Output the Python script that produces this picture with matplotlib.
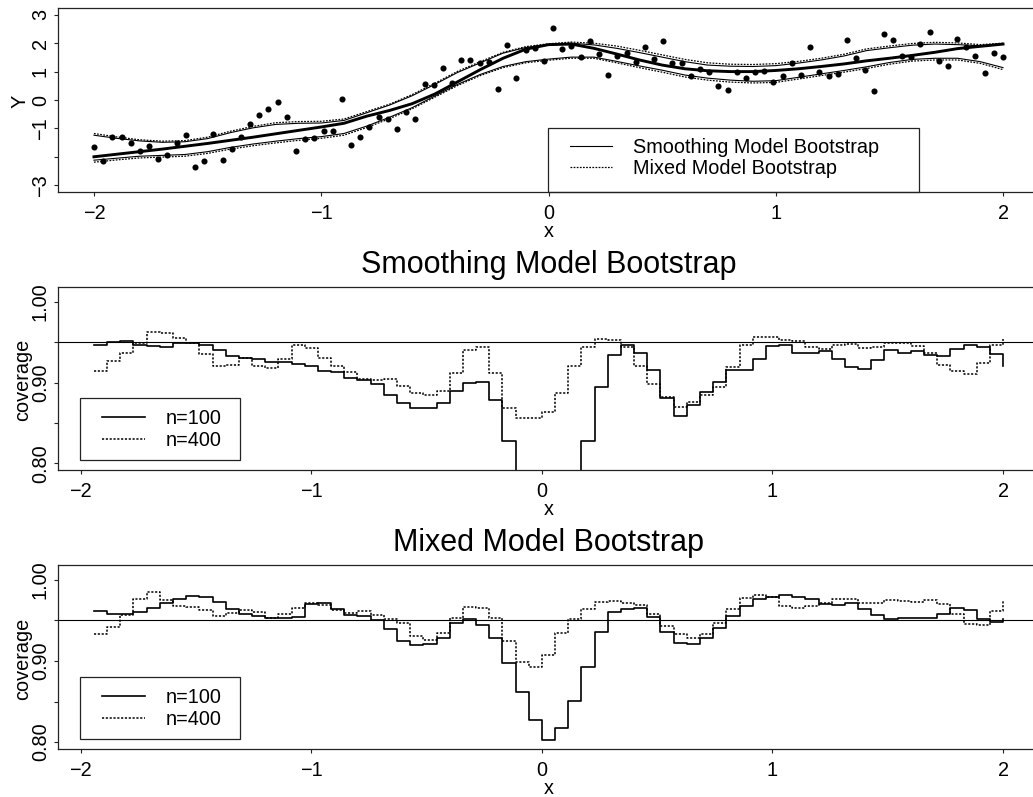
import numpy as np
import matplotlib
matplotlib.use("Agg")
import matplotlib.pyplot as plt
from matplotlib.patches import Rectangle

plt.rcParams['font.family'] = ['Liberation Sans', 'DejaVu Sans']
plt.rcParams['axes.unicode_minus'] = True

# ---------------- top panel: data, fit and bands ----------------
x_obs = np.linspace(-2, 2, 100)
y_obs = [-1.65, -2.15, -1.29, -1.32, -1.51, -1.79, -1.61, -2.08, -1.94, -1.51,
         -1.24, -2.35, -2.15, -1.20, -2.12, -1.72, -1.32, -0.85, -0.53, -0.33,
         -0.06, -0.59, -1.79, -1.39, -1.33, -1.08, -1.08, 0.04, -1.59, -1.29,
         -0.94, -0.61, -0.67, -1.01, -0.42, -0.66, 0.56, 0.54, 1.14, 0.59,
         1.41, 1.41, 1.32, 1.35, 0.39, 1.92, 0.78, 1.76, 1.82, 1.38,
         2.55, 1.80, 1.91, 1.53, 2.08, 1.61, 0.88, 1.56, 1.67, 1.35,
         1.88, 1.44, 2.08, 1.29, 1.32, 0.85, 1.09, 1.00, 0.49, 0.35,
         1.00, 0.78, 1.00, 1.02, 0.64, 0.85, 1.32, 0.89, 1.88, 0.99,
         0.85, 0.93, 2.12, 1.49, 1.04, 0.33, 2.31, 2.12, 1.56, 1.52,
         1.98, 2.40, 1.38, 1.21, 2.15, 1.88, 1.56, 0.96, 1.64, 1.53]

x_fit = np.round(np.linspace(-2, 2, 41), 2)
fit = [-2.00, -1.91, -1.82, -1.73, -1.63, -1.53, -1.42, -1.31, -1.19, -1.07,
       -0.95, -0.82, -0.57, -0.37, -0.13, 0.21, 0.64, 1.07, 1.47, 1.79,
       1.95, 1.97, 1.82, 1.62, 1.41, 1.23, 1.10, 1.03, 1.00, 1.00,
       1.04, 1.10, 1.18, 1.27, 1.38, 1.47, 1.57, 1.68, 1.81, 1.89, 1.97]
smooth_upper = [-1.24, -1.35, -1.44, -1.49, -1.47, -1.36, -1.15, -0.98, -0.86, -0.82,
                -0.81, -0.72, -0.45, -0.18, 0.15, 0.55, 0.97, 1.31, 1.65, 1.85,
                1.95, 2.00, 1.94, 1.82, 1.67, 1.51, 1.35, 1.23, 1.19, 1.18,
                1.21, 1.30, 1.41, 1.55, 1.74, 1.84, 1.93, 1.97, 1.95, 1.91, 1.98]
smooth_lower = [-2.12, -2.05, -1.98, -1.95, -1.92, -1.82, -1.67, -1.55, -1.45, -1.36,
                -1.29, -1.18, -0.92, -0.61, -0.27, 0.14, 0.55, 0.90, 1.18, 1.35,
                1.44, 1.51, 1.51, 1.36, 1.20, 1.05, 0.88, 0.77, 0.70, 0.66,
                0.68, 0.80, 0.92, 1.04, 1.17, 1.32, 1.43, 1.47, 1.47, 1.35, 1.14]
mixed_upper = [-1.18, -1.30, -1.40, -1.45, -1.43, -1.31, -1.10, -0.93, -0.80, -0.76,
               -0.75, -0.67, -0.41, -0.15, 0.19, 0.59, 1.01, 1.35, 1.68, 1.88,
               1.98, 2.04, 2.00, 1.90, 1.75, 1.59, 1.43, 1.31, 1.26, 1.25,
               1.28, 1.36, 1.47, 1.61, 1.80, 1.90, 1.99, 2.03, 2.01, 1.95, 2.00]
mixed_lower = [-2.19, -2.11, -2.04, -2.01, -1.98, -1.88, -1.73, -1.61, -1.51, -1.42,
               -1.35, -1.24, -0.97, -0.66, -0.31, 0.10, 0.51, 0.86, 1.14, 1.31,
               1.40, 1.47, 1.47, 1.31, 1.14, 0.98, 0.81, 0.70, 0.63, 0.60,
               0.62, 0.74, 0.86, 0.98, 1.11, 1.26, 1.37, 1.41, 1.41, 1.29, 1.07]

# ---------------- coverage panels ----------------
x_cov = np.linspace(-2, 2, 71)[1:]
smooth_n100 = [0.947, 0.950, 0.952, 0.947, 0.945, 0.944, 0.949, 0.949, 0.947, 0.940,
               0.933, 0.931, 0.929, 0.926, 0.925, 0.923, 0.920, 0.914, 0.913, 0.906,
               0.903, 0.898, 0.884, 0.875, 0.869, 0.868, 0.875, 0.889, 0.900, 0.901,
               0.878, 0.828, 0.760, 0.720, 0.700, 0.720, 0.770, 0.828, 0.894, 0.934,
               0.946, 0.937, 0.915, 0.881, 0.858, 0.872, 0.888, 0.901, 0.915, 0.915,
               0.929, 0.945, 0.946, 0.937, 0.936, 0.939, 0.929, 0.919, 0.917, 0.928,
               0.940, 0.937, 0.939, 0.934, 0.933, 0.942, 0.946, 0.944, 0.935, 0.920]
smooth_n400 = [0.914, 0.927, 0.936, 0.949, 0.963, 0.962, 0.955, 0.949, 0.935, 0.921,
               0.922, 0.930, 0.921, 0.918, 0.929, 0.947, 0.943, 0.931, 0.920, 0.913,
               0.904, 0.903, 0.905, 0.896, 0.887, 0.884, 0.890, 0.912, 0.940, 0.944,
               0.912, 0.869, 0.856, 0.856, 0.864, 0.887, 0.920, 0.944, 0.954, 0.953,
               0.944, 0.920, 0.898, 0.882, 0.870, 0.876, 0.884, 0.894, 0.919, 0.947,
               0.957, 0.956, 0.953, 0.951, 0.944, 0.942, 0.946, 0.948, 0.943, 0.944,
               0.949, 0.949, 0.945, 0.936, 0.922, 0.914, 0.911, 0.924, 0.946, 0.954]
mixed_n100 = [0.962, 0.958, 0.958, 0.961, 0.965, 0.972, 0.976, 0.980, 0.979, 0.973,
              0.964, 0.958, 0.956, 0.953, 0.953, 0.954, 0.970, 0.972, 0.964, 0.957,
              0.955, 0.951, 0.940, 0.925, 0.920, 0.921, 0.929, 0.947, 0.952, 0.944,
              0.929, 0.898, 0.862, 0.827, 0.803, 0.818, 0.851, 0.893, 0.936, 0.961,
              0.964, 0.965, 0.954, 0.936, 0.922, 0.921, 0.929, 0.941, 0.955, 0.968,
              0.977, 0.979, 0.981, 0.979, 0.977, 0.970, 0.969, 0.971, 0.964, 0.957,
              0.952, 0.953, 0.953, 0.953, 0.958, 0.966, 0.963, 0.952, 0.948, 0.952]
mixed_n400 = [0.933, 0.942, 0.957, 0.976, 0.985, 0.975, 0.968, 0.967, 0.963, 0.955,
              0.959, 0.963, 0.960, 0.953, 0.958, 0.966, 0.971, 0.969, 0.963, 0.959,
              0.962, 0.957, 0.952, 0.947, 0.931, 0.926, 0.935, 0.953, 0.967, 0.965,
              0.953, 0.925, 0.899, 0.893, 0.908, 0.934, 0.952, 0.964, 0.973, 0.974,
              0.972, 0.969, 0.958, 0.943, 0.933, 0.929, 0.933, 0.947, 0.964, 0.978,
              0.982, 0.979, 0.968, 0.966, 0.968, 0.971, 0.977, 0.977, 0.972, 0.972,
              0.975, 0.974, 0.973, 0.975, 0.970, 0.958, 0.946, 0.945, 0.962, 0.975]

nominal = 0.95
x_ticks = [-2, -1, 0, 1, 2]
top_yticks = [-3, -2, -1, 0, 1, 2, 3]
top_ylabels = ['\u22123', '', '\u22121', '0', '1', '2', '3']
cov_yticks = [0.80, 0.85, 0.90, 0.95, 1.00]
cov_ylabels = ['0.80', '', '0.90', '', '1.00']

# ---------------- layout ----------------
FS = 14.3
W, H = 1033.0, 797.0
LEFT, RIGHT = 57.6, 1039.4
fig = plt.figure(figsize=(W / 100, H / 100), dpi=100)


def add_axes(top_px, bottom_px):
    return fig.add_axes([LEFT / W, (H - bottom_px) / H, (RIGHT - LEFT) / W,
                         (bottom_px - top_px) / H])


EDGE = '#222222'
DOT = (0, (1.4, 1.1))


def style(ax, yticks, ylabels, ylab, ylab_x):
    for s in ax.spines.values():
        s.set_linewidth(0.9)
        s.set_color(EDGE)
    ax.set_xticks(x_ticks)
    ax.set_yticks(yticks)
    ax.set_yticklabels(ylabels)
    ax.tick_params(direction='out', length=3, width=0.8, color=EDGE,
                   labelsize=FS)
    ax.tick_params(axis='x', pad=5.5)
    ax.tick_params(axis='y', labelrotation=90, pad=2.5)
    plt.setp(ax.get_yticklabels(), va='center')
    ax.set_xlabel('x', fontsize=FS)
    ax.xaxis.set_label_coords(0.5, -0.216)
    ax.xaxis.label.set_va('center')
    ax.set_ylabel(ylab, fontsize=FS)
    ax.yaxis.set_label_coords(ylab_x, 0.49)
    ax.yaxis.label.set_va('center')


def framed_legend(ax, handles, labels, frame, anchor, hl, htp, ls):
    ax.legend(handles, labels, loc='upper left', bbox_to_anchor=anchor,
              bbox_transform=ax.transAxes, borderaxespad=0, borderpad=0,
              frameon=False, fontsize=FS, handlelength=hl,
              handletextpad=htp, labelspacing=ls)
    ax.add_patch(Rectangle(frame[:2], frame[2], frame[3], transform=ax.transAxes,
                           fill=False, lw=0.9, edgecolor=EDGE, clip_on=False,
                           zorder=5))


# ---- top panel ----
ax1 = add_axes(8, 192)
ax1.plot(x_obs, y_obs, 'o', color='black', ms=4.4, mec='none')
ax1.plot(x_fit, fit, color='black', lw=2.1)
l_s, = ax1.plot(x_fit, smooth_upper, color='black', lw=0.8)
ax1.plot(x_fit, smooth_lower, color='black', lw=0.8)
l_m, = ax1.plot(x_fit, mixed_upper, color='black', lw=0.9, ls=DOT)
ax1.plot(x_fit, mixed_lower, color='black', lw=0.9, ls=DOT)
ax1.set_xlim(-2.16, 2.16)
ax1.set_ylim(-3.24, 3.24)
style(ax1, top_yticks, top_ylabels, 'Y', -0.0383)
framed_legend(ax1, [l_s, l_m], ['Smoothing Model Bootstrap', 'Mixed Model Bootstrap'],
              (0.4995, 0.0, 0.3779, 0.3462), (0.5219, 0.292), 2.1, 1.05, 0.09)

# ---- coverage panels ----
panels = [
    (287, 470, 'Smoothing Model Bootstrap', smooth_n100, smooth_n400),
    (565, 749, 'Mixed Model Bootstrap', mixed_n100, mixed_n400),
]
for top_px, bot_px, title, c100, c400 in panels:
    ax = add_axes(top_px, bot_px)
    ax.axhline(nominal, color='black', lw=0.8)
    h1, = ax.step(x_cov, c100, where='post', color='black', lw=1.2)
    h2, = ax.step(x_cov, c400, where='post', color='black', lw=1.1, ls=DOT)
    ax.set_xlim(-2.1006, 2.1577)
    ax.set_ylim(0.7916, 1.0184)
    style(ax, cov_yticks, cov_ylabels, 'coverage', -0.0352)
    ax.set_title(title, fontsize=22, pad=10)
    framed_legend(ax, [h1, h2], ['n=100', 'n=400'],
                  (0.0228, 0.0546, 0.163, 0.3366), (0.0449, 0.333), 2.18, 1.04, 0.14)

fig.savefig('out.png', dpi=100)
